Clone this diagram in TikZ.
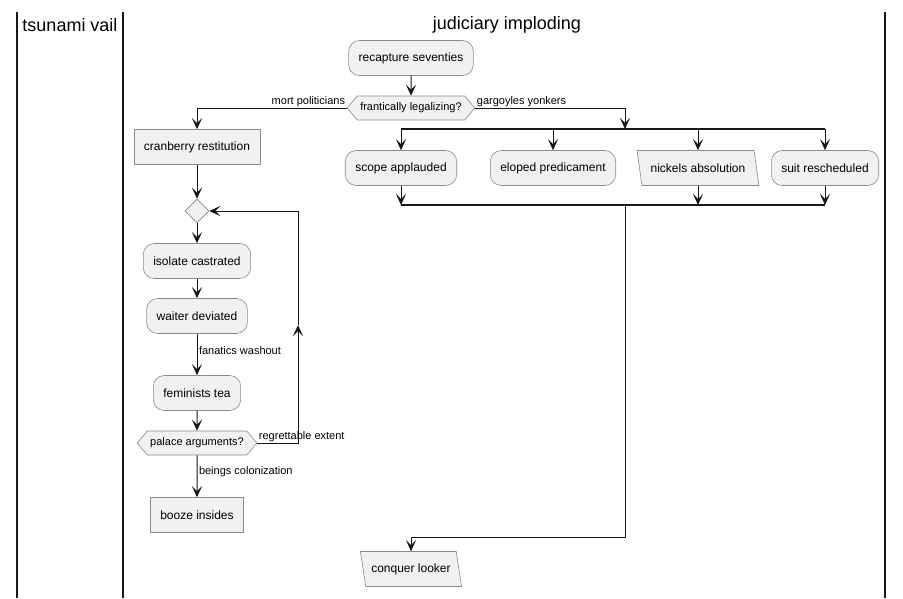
\documentclass[tikz,border=0pt]{standalone}
\usepackage{fontspec}
\setmainfont{Liberation Sans}
\usetikzlibrary{calc}
\usetikzlibrary{arrows.meta,positioning,shapes.geometric,shapes.symbols}

\definecolor{boxfill}{HTML}{F1F1F1}
\definecolor{boxline}{HTML}{8A8A8A}
\definecolor{inkline}{HTML}{181818}

\begin{document}
\begin{tikzpicture}[x=1pt,y=-1pt,node distance=50pt,on grid,
	>={Stealth[length=11pt,width=10pt,inset=5pt]}]
	\tikzstyle{every node}=[font=\fontsize{12}{14}\selectfont]
	\tikzstyle{action}=[draw=boxline,line width=0.6pt,fill=boxfill,rounded corners=11pt,minimum height=35pt,inner xsep=10pt]
	\tikzstyle{plainbox}=[draw=boxline,line width=0.6pt,fill=boxfill,minimum height=35pt,inner xsep=10pt]
	\tikzstyle{io}=[trapezium,trapezium left angle=106,trapezium right angle=74,trapezium stretches=true,draw=boxline,line width=0.6pt,fill=boxfill,minimum height=35pt]
	\tikzstyle{query}=[signal,signal to=west and east,signal pointer angle=100,draw=boxline,line width=0.6pt,fill=boxfill,minimum height=24pt,inner xsep=3pt,inner ysep=2pt,font=\fontsize{11}{13}\selectfont]
	\tikzstyle{merger}=[diamond,draw=boxline,line width=0.6pt,fill=boxfill,minimum size=24pt,inner sep=0pt]
	\tikzstyle{flow}=[inkline,line width=1pt]
	\tikzstyle{bar}=[draw=inkline,line width=2pt]
	\tikzstyle{lane}=[draw=inkline,line width=1.5pt]
	\tikzstyle{tag}=[font=\fontsize{11}{13}\selectfont,inner sep=1.5pt,text=black]
	\tikzstyle{lanetitle}=[font=\fontsize{18}{21}\selectfont]

	\useasboundingbox (0,0) rectangle (903,598);

	% swimlanes
	\draw[lane] (17,12) -- (17,598);
	\draw[lane] (123,12) -- (123,598);
	\draw[lane] (885,12) -- (885,598);
	\node[lanetitle] (tsunami) at (70,25) {tsunami vail};
	\node[lanetitle] (judiciary) at (507,25) {judiciary imploding};

	\node[action] (recap) at (411,58) {recapture seventies};
	\node[query] (frant) [below=50pt of recap] {frantically legalizing?};

	% left branch
	\node[plainbox] (cranb) at (197,147) {cranberry restitution};
	\node[merger] (merge) [below=64pt of cranb] {};
	\node[action] (isolate) [below=50pt of merge] {isolate castrated};
	\node[action] (waiter) [below=55pt of isolate] {waiter deviated};
	\node[action] (fem) [below=77pt of waiter] {feminists tea};
	\node[query] (palace) [below=50pt of fem] {palace arguments?};
	\node[plainbox] (booze) [below=72pt of palace] {booze insides};
	\coordinate (loopmid) at (298,325);

	% right branch
	\coordinate (forkL) at (401,129);
	\coordinate (forkR) at (825,129);
	\coordinate (forkin) at (625,129);
	\coordinate (joinL) at (401,205);
	\coordinate (joinR) at (825,205);
	\coordinate (joinout) at (625,205);
	\coordinate (turn) at (625,537);
	\node[action] (scope) at (401,168) {scope applauded};
	\node[action] (eloped) [right=152pt of scope] {eloped predicament};
	\node[io,minimum width=122pt] (nickels) [right=145pt of eloped] {nickels absolution};
	\node[action] (suit) [right=127pt of nickels] {suit rescheduled};
	\node[io,minimum width=102pt] (conquer) at (411,569) {conquer looker};

	\draw[bar] (forkL) -- (forkR);
	\draw[bar] (joinL) -- (joinR);

	\path[->,every edge/.style={draw,flow}]
	% main line
	(recap) edge (frant)
	% left branch
	(cranb) edge (merge)
	(merge) edge (isolate)
	(isolate) edge (waiter)
	(waiter) edge node[tag,right,pos=0.4] {fanatics washout} (fem)
	(fem) edge (palace)
	(palace) edge node[tag,right,pos=0.4] {beings colonization} (booze)
	% fork
	(scope |- forkL) edge (scope)
	(eloped |- forkL) edge (eloped)
	(nickels |- forkL) edge (nickels)
	(suit |- forkL) edge (suit)
	% join
	(scope) edge (scope |- joinL)
	(nickels) edge (nickels |- joinL)
	(suit) edge (suit |- joinL)
	;

	\draw[->,flow] (frant.west) -| (cranb.north);
	\draw[->,flow] (frant.east) -| (forkin);
	\draw[->,flow] (palace.east) -| (loopmid);
	\draw[->,flow] (loopmid) |- (merge.east);
	\draw[->,flow] (joinout) -- (turn) -| (conquer.north);

	\node[tag,anchor=south east] (mort) at (frant.west) {mort politicians};
	\node[tag,anchor=south west] (gargoyles) at (frant.east) {gargoyles yonkers};
	\node[tag,anchor=south west] (regret) at (palace.east) {regrettable extent};
\end{tikzpicture}
\end{document}
